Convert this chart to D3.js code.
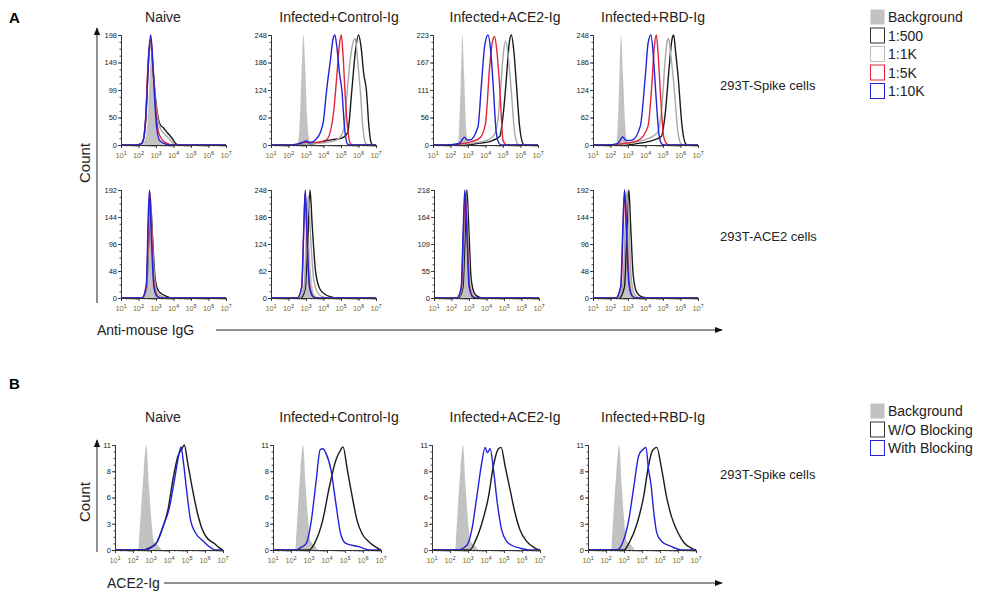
<!DOCTYPE html>
<html>
<head>
<meta charset="utf-8">
<script src="https://cdn.jsdelivr.net/npm/d3@7"></script>
<style>
  body { margin: 0; background: #fff; }
  svg { font-family: "Liberation Sans", Arial, sans-serif; }
</style>
</head>
<body>
<div id="chart"></div>
<script>
// ---- data (x as log10 of fluorescence, y as count) ----
const titles = ["Naive", "Infected+Control-Ig", "Infected+ACE2-Ig", "Infected+RBD-Ig"];
const decades = [1, 2, 3, 4, 5, 6, 7];

const spikeMax = [198, 248, 223, 248];
const spikeTicks = [["0", "50", "99", "149", "198"], ["0", "62", "124", "186", "248"],
                    ["0", "56", "111", "167", "223"], ["0", "62", "124", "186", "248"]];
const cellMax = [192, 248, 218, 192];
const cellTicks = [["0", "48", "96", "144", "192"], ["0", "62", "124", "186", "248"],
                   ["0", "55", "109", "164", "218"], ["0", "48", "96", "144", "192"]];
const blockMax = [11, 11, 11, 11];
const blockTicks = [["0", "3", "6", "8", "11"], ["0", "3", "6", "8", "11"],
                    ["0", "3", "6", "8", "11"], ["0", "3", "6", "8", "11"]];

const legendA = ["Background", "1:500", "1:1K", "1:5K", "1:10K"];
const legendB = ["Background", "W/O Blocking", "With Blocking"];

// row 1: 293T-Spike cells
const spikeBg = [
  [[2.2,0],[2.45,20],[2.62,110],[2.75,170],[2.88,110],[3.05,35],[3.2,8],[3.4,0]],
  [[2.4,0],[2.55,5],[2.66,70],[2.78,200],[2.86,248],[2.95,180],[3.07,60],[3.2,10],[3.35,0]],
  [[2.3,0],[2.45,8],[2.57,110],[2.68,223],[2.78,140],[2.9,30],[3.0,6],[3.1,0]],
  [[2.2,0],[2.35,6],[2.48,110],[2.6,248],[2.72,150],[2.85,40],[2.95,6],[3.05,0]]
];
const spike500 = [
  [[1,0],[1.8,0],[2.2,3],[2.4,40],[2.55,140],[2.68,188],[2.8,150],[2.99,79],[3.23,37],[3.42,31],[3.65,22],[3.9,13],[4.14,2],[4.3,0],[7,0]],
  [[1,0],[2.5,0],[3.5,3],[4.0,8],[4.5,12],[5.0,15],[5.38,28],[5.62,124],[5.82,210],[6.0,248],[6.15,220],[6.3,160],[6.45,124],[6.6,40],[6.72,5],[6.85,0],[7,0]],
  [[1,0],[3.0,0],[3.5,3],[4.24,7],[4.81,17],[5.0,58],[5.19,133],[5.35,205],[5.48,223],[5.62,190],[5.76,126],[5.95,37],[6.18,1],[6.3,0],[7,0]],
  [[1,0],[3.0,0],[3.5,3],[4.37,10],[4.9,19],[5.13,72],[5.36,179],[5.5,235],[5.61,248],[5.72,210],[5.86,156],[6.09,42],[6.31,2],[6.45,0],[7,0]]
];
const spike1k = [
  [[1,0],[1.8,0],[2.2,3],[2.4,40],[2.55,140],[2.7,185],[2.82,140],[2.94,91],[3.23,31],[3.51,19],[3.8,10],[3.99,2],[4.2,0],[7,0]],
  [[1,0],[2.5,0],[3.5,3],[4.0,5],[4.5,8],[4.9,15],[5.18,40],[5.36,124],[5.55,200],[5.72,235],[5.82,240],[5.95,190],[6.1,124],[6.25,40],[6.4,4],[6.55,0],[7,0]],
  [[1,0],[2.5,0],[3.0,3],[3.86,7],[4.43,17],[4.71,51],[4.9,133],[5.05,195],[5.15,210],[5.3,180],[5.48,106],[5.67,24],[5.86,1],[6.0,0],[7,0]],
  [[1,0],[2.5,0],[3.0,3],[3.61,8],[4.18,15],[4.66,27],[4.94,88],[5.1,179],[5.22,230],[5.32,240],[5.45,200],[5.61,141],[5.86,27],[6.05,2],[6.2,0],[7,0]]
];
const spike5k = [
  [[1,0],[1.8,0],[2.2,3],[2.4,45],[2.55,150],[2.72,190],[2.82,140],[2.94,85],[3.13,25],[3.42,7],[3.8,1],[4.0,0],[7,0]],
  [[1,0],[2.0,0],[2.5,2],[3.0,6],[3.5,6],[3.9,8],[4.2,13],[4.58,75],[4.77,160],[4.92,230],[5.02,248],[5.12,200],[5.25,105],[5.4,30],[5.55,2],[5.7,0],[7,0]],
  [[1,0],[2.0,0],[2.5,2],[3.2,7],[3.67,14],[4.0,44],[4.24,160],[4.4,210],[4.52,220],[4.65,190],[4.81,119],[5.0,10],[5.2,0],[7,0]],
  [[1,0],[2.0,0],[2.5,2],[3.04,5],[3.61,11],[4.14,42],[4.37,141],[4.5,220],[4.62,248],[4.73,200],[4.85,118],[5.04,19],[5.23,2],[5.35,0],[7,0]]
];
const spike10k = [
  [[1,0],[1.6,0],[2.09,1],[2.31,13],[2.47,79],[2.6,170],[2.7,198],[2.8,160],[2.89,103],[3.04,31],[3.23,7],[3.61,1],[3.9,0],[7,0]],
  [[1,0],[1.8,0],[2.5,2],[2.8,6],[3.03,9],[3.2,5],[3.5,10],[3.82,28],[4.0,55],[4.18,124],[4.39,190],[4.55,240],[4.65,248],[4.78,215],[4.92,160],[5.05,124],[5.2,40],[5.36,3],[5.5,0],[7,0]],
  [[1,0],[1.8,0],[2.5,3],[2.8,16],[2.95,10],[3.1,10],[3.57,37],[3.76,119],[3.95,200],[4.14,223],[4.3,190],[4.43,126],[4.62,24],[4.8,2],[5.0,0],[7,0]],
  [[1,0],[1.8,0],[2.4,3],[2.7,18],[2.9,10],[3.23,11],[3.7,42],[3.99,156],[4.15,230],[4.31,248],[4.45,200],[4.56,134],[4.79,19],[4.94,2],[5.1,0],[7,0]]
];

// row 2: 293T-ACE2 cells
const cellBg = [
  [[2.3,0],[2.5,20],[2.62,120],[2.7,175],[2.8,120],[2.95,30],[3.1,5],[3.3,0]],
  [[2.6,0],[2.85,30],[2.98,150],[3.08,232],[3.18,140],[3.35,30],[3.55,5],[3.8,0]],
  [[2.35,0],[2.6,25],[2.75,150],[2.83,215],[2.93,140],[3.08,25],[3.3,0]],
  [[2.4,0],[2.7,25],[2.84,130],[2.93,185],[3.02,120],[3.18,25],[3.4,0]]
];
const cell500 = [
  [[1,0],[2.2,0],[2.45,15],[2.6,110],[2.7,165],[2.8,110],[2.95,35],[3.1,15],[3.3,8],[3.6,3],[3.9,0],[7,0]],
  [[1,0],[2.7,0],[2.95,20],[3.12,150],[3.23,248],[3.35,170],[3.55,60],[3.8,20],[4.1,8],[4.5,2],[4.8,0],[7,0]],
  [[1,0],[2.4,0],[2.65,20],[2.8,150],[2.88,218],[2.98,150],[3.12,40],[3.3,10],[3.55,2],[3.8,0],[7,0]],
  [[1,0],[2.5,0],[2.8,20],[2.95,130],[3.05,192],[3.15,130],[3.3,40],[3.5,10],[3.8,2],[4.2,0],[7,0]]
];
const cell1k = [
  [[1,0],[2.2,0],[2.45,15],[2.6,120],[2.68,180],[2.78,110],[2.95,25],[3.1,8],[3.4,2],[3.7,0],[7,0]],
  [[1,0],[2.6,0],[2.9,20],[3.05,160],[3.14,235],[3.25,150],[3.45,40],[3.7,10],[4.0,2],[4.3,0],[7,0]],
  [[1,0],[2.35,0],[2.6,20],[2.74,150],[2.82,212],[2.92,140],[3.06,25],[3.3,3],[3.5,0],[7,0]],
  [[1,0],[2.4,0],[2.7,20],[2.86,140],[2.95,190],[3.05,130],[3.2,30],[3.4,5],[3.7,0],[7,0]]
];
const cell5k = [
  [[1,0],[2.2,0],[2.45,20],[2.58,140],[2.66,188],[2.76,110],[2.9,20],[3.1,3],[3.4,0],[7,0]],
  [[1,0],[2.5,0],[2.76,25],[2.88,165],[2.95,240],[3.04,155],[3.2,30],[3.4,4],[3.6,0],[7,0]],
  [[1,0],[2.3,0],[2.56,20],[2.7,150],[2.78,210],[2.88,140],[3.02,25],[3.2,3],[3.4,0],[7,0]],
  [[1,0],[2.3,0],[2.6,20],[2.74,140],[2.82,188],[2.92,125],[3.07,25],[3.25,3],[3.5,0],[7,0]]
];
const cell10k = [
  [[1,0],[2.2,0],[2.45,25],[2.56,150],[2.63,192],[2.73,110],[2.88,20],[3.05,3],[3.3,0],[7,0]],
  [[1,0],[2.5,0],[2.75,25],[2.88,170],[2.96,248],[3.05,150],[3.2,25],[3.4,3],[3.6,0],[7,0]],
  [[1,0],[2.3,0],[2.55,20],[2.68,150],[2.76,218],[2.86,150],[3.0,25],[3.2,3],[3.4,0],[7,0]],
  [[1,0],[2.3,0],[2.58,20],[2.72,140],[2.8,192],[2.9,130],[3.05,25],[3.25,3],[3.5,0],[7,0]]
];

// panel B: ACE2-Ig blocking on 293T-Spike cells
const blockBg = [
  [[2.3,0],[2.47,4.9],[2.6,8.4],[2.74,11],[2.89,6.6],[3.02,3.1],[3.15,1.0],[3.25,0.7],[3.39,0.5],[3.6,0]],
  [[2.25,0],[2.4,4.9],[2.53,8.4],[2.67,11],[2.82,6.6],[2.95,3.1],[3.08,1.0],[3.3,0.5],[3.5,0]],
  [[2.3,0],[2.45,4.9],[2.58,8.4],[2.72,11],[2.87,6.6],[3.0,3.1],[3.13,1.0],[3.35,0.5],[3.6,0]],
  [[2.3,0],[2.45,4.9],[2.59,8.4],[2.73,11],[2.88,6.6],[3.01,3.1],[3.14,1.0],[3.35,0.6],[3.6,0]]
];
const blockWo = [
  [[1,0],[2.5,0],[3.0,0.3],[3.29,0.7],[3.66,2.4],[3.94,4.2],[4.21,7.3],[4.49,9.8],[4.72,10.6],[4.85,11],[5.04,9.1],[5.31,6.3],[5.59,3.8],[5.86,2.1],[6.14,1.2],[6.5,0.7],[6.82,0.2],[7,0]],
  [[1,0],[3.0,0],[3.31,0.7],[3.76,3.1],[4.13,6.6],[4.49,9.4],[4.76,10.5],[4.89,10.8],[5.13,8.4],[5.4,5.6],[5.67,3.1],[5.95,1.7],[6.31,0.9],[6.76,0.24],[7,0]],
  [[1,0],[3.1,0],[3.4,0.9],[3.77,2.8],[4.14,5.6],[4.41,8.8],[4.69,10.6],[4.84,10.75],[5.06,8.8],[5.34,6.3],[5.61,3.9],[5.89,2.1],[6.26,0.9],[6.72,0.2],[7,0]],
  [[1,0],[3.0,0],[3.27,0.7],[3.73,2.8],[4.09,5.6],[4.36,8.8],[4.58,10.4],[4.82,10.75],[5.09,8.5],[5.36,5.6],[5.64,3.5],[6.0,1.8],[6.36,0.7],[6.73,0.2],[7,0]]
];
const blockWith = [
  [[1,0],[2.6,0],[3.29,0.7],[3.66,2.4],[4.03,4.5],[4.3,7.3],[4.55,10],[4.67,10.8],[4.8,9.2],[5.0,5.9],[5.2,3.1],[5.5,1.7],[5.86,1.0],[6.2,0.4],[6.6,0],[7,0]],
  [[1,0],[2.3,0],[2.49,0.2],[2.85,0.7],[3.13,3.1],[3.4,7.3],[3.62,10.5],[3.76,10.6],[3.95,10.1],[4.22,8.4],[4.49,4.9],[4.76,1.7],[5.04,0.7],[5.76,0.35],[6.4,0],[7,0]],
  [[1,0],[2.4,0],[2.94,0.5],[3.21,2.1],[3.49,5.6],[3.77,9.2],[3.95,10.75],[4.08,10.2],[4.23,10.6],[4.41,8.5],[4.63,4.9],[4.87,2.1],[5.15,0.9],[5.43,0.5],[5.89,0.2],[6.4,0],[7,0]],
  [[1,0],[2.6,0],[2.91,0.7],[3.27,3.2],[3.55,6.7],[3.82,9.9],[4.09,10.6],[4.22,10.75],[4.36,8.5],[4.51,6.7],[4.64,4.2],[4.82,1.8],[5.09,0.9],[5.64,0.35],[6.2,0],[7,0]]
];

// ---- layout ----
const W = 985, H = 594;
const C = { bg: "#c2c2c2", black: "#1a1a1a", gray: "#a8a8a8", red: "#e3243a", blue: "#2222d8" };
const titleX = [163, 339, 505, 653];
const rowA1 = { top: 35, base: 145, lefts: [121, 271, 433, 593], w: 105 };
const rowA2 = { top: 190, base: 298, lefts: [121, 271, 434, 593], w: 105 };
const rowB  = { top: 445, base: 550, lefts: [115, 273, 432, 588], w: 108 };

const svg = d3.select("#chart").append("svg")
  .attr("width", W).attr("height", H)
  .attr("viewBox", `0 0 ${W} ${H}`);

svg.append("defs").append("marker")
  .attr("id", "arrow").attr("viewBox", "0 0 10 10")
  .attr("refX", 9).attr("refY", 5)
  .attr("markerWidth", 8).attr("markerHeight", 8)
  .attr("orient", "auto-start-reverse")
  .append("path").attr("d", "M0,1 L10,5 L0,9 Z").attr("fill", "#111");

function drawPanel(row, i, max, tickLabels, bg, lines) {
  const h = row.base - row.top;
  const g = svg.append("g").attr("transform", `translate(${row.lefts[i]},${row.top})`);
  const x = d3.scaleLog().domain([10, 1e7]).range([0, row.w]);
  const y = d3.scaleLinear().domain([0, max]).range([h, 0]);

  const area = d3.area()
    .x(d => x(Math.pow(10, d[0]))).y0(h).y1(d => y(d[1]))
    .curve(d3.curveMonotoneX);
  const line = d3.line()
    .x(d => x(Math.pow(10, d[0]))).y(d => y(d[1]))
    .curve(d3.curveMonotoneX);

  g.append("path").datum(bg[i]).attr("d", area).attr("fill", C.bg);
  lines.forEach(s => {
    g.append("path").datum(s.data[i]).attr("d", line)
      .attr("fill", "none").attr("stroke", s.color).attr("stroke-width", 1.4);
  });

  // y axis: minor + major ticks
  g.append("g").attr("class", "ax")
    .call(d3.axisLeft(y).tickValues(d3.range(17).map(k => max * k / 16)).tickSize(1.5).tickFormat(""));
  g.append("g").attr("class", "ax")
    .call(d3.axisLeft(y).tickValues(d3.range(5).map(k => max * k / 4)).tickSize(3)
      .tickFormat((d, k) => tickLabels[i][k]).tickPadding(1));

  // x axis: minor + decade ticks
  const xg = g.append("g").attr("class", "ax").attr("transform", `translate(0,${h})`);
  xg.call(d3.axisBottom(x).tickValues(x.ticks().filter(v => v >= 10)).tickSize(1.5).tickFormat(""));
  xg.append("g").call(d3.axisBottom(x).tickValues(decades.map(e => Math.pow(10, e))).tickSize(3).tickFormat(""));
  const lab = xg.selectAll("text.dec").data(decades).join("text")
    .attr("class", "dec")
    .attr("x", e => x(Math.pow(10, e)))
    .attr("y", 13)
    .attr("text-anchor", "middle")
    .attr("font-size", 7.5);
  lab.append("tspan").attr("fill", "#86742e").text("10");
  lab.append("tspan").attr("dy", -3.5).attr("font-size", 5).attr("fill", "#333").text(e => e);
}

const linesA1 = [
  { data: spike500, color: C.black }, { data: spike1k, color: C.gray },
  { data: spike5k, color: C.red }, { data: spike10k, color: C.blue }
];
const linesA2 = [
  { data: cell500, color: C.black }, { data: cell1k, color: C.gray },
  { data: cell5k, color: C.red }, { data: cell10k, color: C.blue }
];
const linesB = [{ data: blockWo, color: C.black }, { data: blockWith, color: C.blue }];

titles.forEach((t, i) => {
  drawPanel(rowA1, i, spikeMax[i], spikeTicks, spikeBg, linesA1);
  drawPanel(rowA2, i, cellMax[i], cellTicks, cellBg, linesA2);
  drawPanel(rowB, i, blockMax[i], blockTicks, blockBg, linesB);
});

svg.selectAll(".ax path, .ax line").attr("stroke", "#333").attr("stroke-width", 0.9);
svg.selectAll(".ax .tick text")
  .attr("font-size", 7.5).attr("fill", "#222")
  .attr("font-family", "'Liberation Sans Narrow', 'Liberation Sans', Arial, sans-serif");

// titles
svg.selectAll("text.tA").data(titles).join("text").attr("class", "tA")
  .attr("x", (d, i) => titleX[i]).attr("y", 22).attr("text-anchor", "middle")
  .attr("font-size", 14).attr("fill", "#222").text(d => d);
svg.selectAll("text.tB").data(titles).join("text").attr("class", "tB")
  .attr("x", (d, i) => titleX[i]).attr("y", 422).attr("text-anchor", "middle")
  .attr("font-size", 14).attr("fill", "#222").text(d => d);

// panel letters
svg.append("text").attr("x", 9).attr("y", 23).attr("font-size", 15).attr("font-weight", "bold").text("A");
svg.append("text").attr("x", 9).attr("y", 389).attr("font-size", 15).attr("font-weight", "bold").text("B");

// axis arrows + labels
function vArrow(x, y1, y2) {
  svg.append("line").attr("x1", x).attr("x2", x).attr("y1", y1).attr("y2", y2)
    .attr("stroke", "#222").attr("stroke-width", 1).attr("marker-end", "url(#arrow)");
}
function hArrow(x1, x2, y) {
  svg.append("line").attr("x1", x1).attr("x2", x2).attr("y1", y).attr("y2", y)
    .attr("stroke", "#222").attr("stroke-width", 1).attr("marker-end", "url(#arrow)");
}
vArrow(97, 303, 28);
vArrow(97, 552, 440);
hArrow(216, 722, 330);
hArrow(164, 722, 583);

svg.append("text").attr("transform", "translate(90,163) rotate(-90)")
  .attr("text-anchor", "middle").attr("font-size", 15).attr("fill", "#222").text("Count");
svg.append("text").attr("transform", "translate(90,502) rotate(-90)")
  .attr("text-anchor", "middle").attr("font-size", 15).attr("fill", "#222").text("Count");
svg.append("text").attr("x", 97).attr("y", 335).attr("font-size", 14).attr("fill", "#222").text("Anti-mouse IgG");
svg.append("text").attr("x", 107).attr("y", 588).attr("font-size", 14).attr("fill", "#222").text("ACE2-Ig");

// row labels
[["293T-Spike cells", 90], ["293T-ACE2 cells", 241], ["293T-Spike cells", 479]].forEach(([t, yy]) => {
  svg.append("text").attr("x", 720).attr("y", yy).attr("font-size", 13).attr("fill", "#222").text(t);
});

// legends
function legend(items, colors, y0) {
  items.forEach((t, k) => {
    const yy = y0 + k * 18.5;
    const isBg = k === 0;
    svg.append("rect").attr("x", 870.5).attr("y", yy - 7.5).attr("width", 14).attr("height", 15)
      .attr("fill", isBg ? C.bg : "#fff")
      .attr("stroke", isBg ? "none" : colors[k]).attr("stroke-width", 1);
    svg.append("text").attr("x", 888).attr("y", yy + 5).attr("font-size", 14).attr("fill", "#222").text(t);
  });
}
legend(legendA, [C.bg, "#333", "#bbb", C.red, C.blue], 17);
legend(legendB, [C.bg, "#333", C.blue], 411);
</script>
</body>
</html>
